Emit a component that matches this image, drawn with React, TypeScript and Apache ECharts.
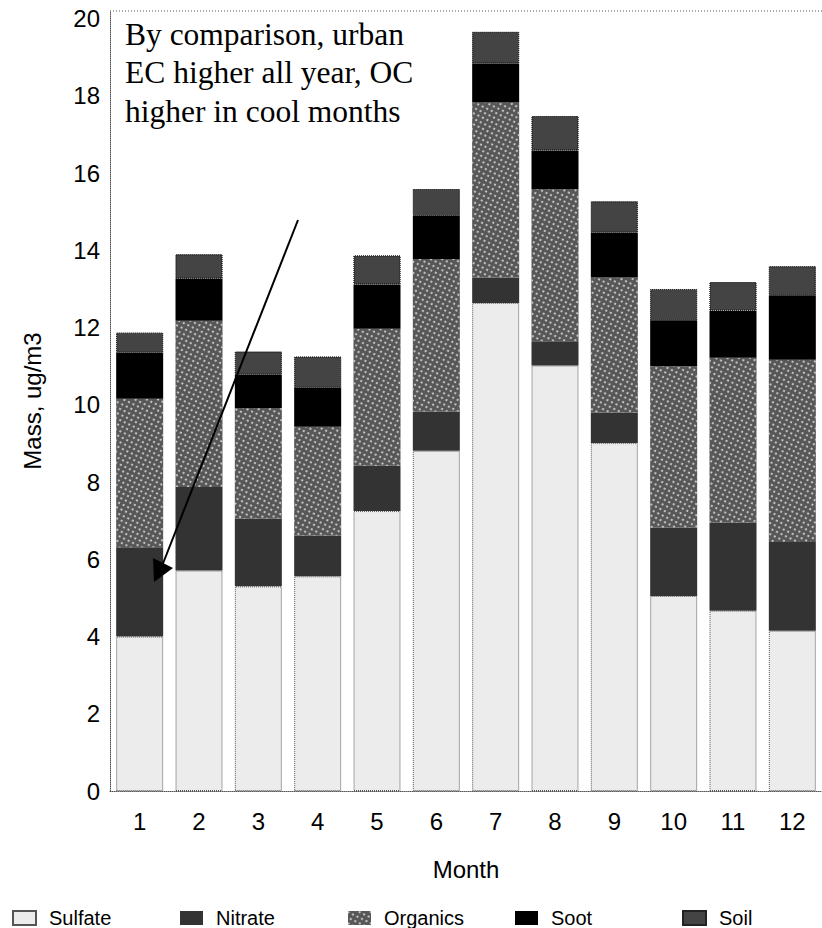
import React, { useEffect, useRef } from 'react';
import * as echarts from 'echarts';

const months = ['1', '2', '3', '4', '5', '6', '7', '8', '9', '10', '11', '12'];
const sulfate = [4.0, 5.71, 5.3, 5.56, 7.25, 8.81, 12.64, 11.02, 9.01, 5.05, 4.67, 4.15];
const nitrate = [2.31, 2.16, 1.76, 1.06, 1.17, 1.02, 0.66, 0.63, 0.79, 1.77, 2.28, 2.3];
const organics = [3.85, 4.31, 2.86, 2.81, 3.55, 3.95, 4.53, 3.94, 3.5, 4.18, 4.27, 4.72];
const soot = [1.19, 1.09, 0.86, 1.01, 1.15, 1.11, 1.01, 1.0, 1.16, 1.19, 1.22, 1.67];
const soil = [0.52, 0.63, 0.6, 0.81, 0.75, 0.7, 0.82, 0.89, 0.81, 0.81, 0.74, 0.75];
const seriesNames = ['Sulfate', 'Nitrate', 'Organics', 'Soot', 'Soil'];
const yMin = 0;
const yMax = 20.2;
const yInterval = 2;
const annotationLines = ['By comparison, urban', 'EC higher all year, OC', 'higher in cool months'];

const SANS = '"Liberation Sans", Arial, sans-serif';
const SERIF = '"Liberation Serif", "Times New Roman", serif';

export default function App() {
  const ref = useRef<HTMLDivElement>(null);
  useEffect(() => {
    if (!ref.current) return;
    const chart = echarts.init(ref.current, null, { renderer: 'svg' });
    const styles: any[] = [
      { color: '#ececec', borderColor: '#555', borderWidth: 1, borderType: 'dotted' },
      { color: '#333333' },
      {
        color: '#575757',
        decal: {
          symbol: 'circle',
          symbolSize: 1,
          color: 'rgba(255,255,255,0.75)',
          dashArrayX: [1.4, 2.8],
          dashArrayY: [1.4, 2.8],
          rotation: 0.45,
        },
      },
      { color: '#000000' },
      {
        color: '#444444',
        borderColor: '#222',
        borderWidth: 1,
        borderType: 'dotted',
        decal: {
          symbol: 'circle',
          symbolSize: 1,
          color: 'rgba(255,255,255,0.18)',
          dashArrayX: [1, 8],
          dashArrayY: [1, 8],
          rotation: 0.3,
        },
      },
    ];
    const dataArr = [sulfate, nitrate, organics, soot, soil];
    const legendLefts = [12, 180, 348, 515, 682];
    chart.setOption({
      animation: false,
      grid: { left: 110, top: 11, bottom: 137, width: 717, containLabel: false },
      xAxis: {
        type: 'category',
        data: months,
        name: 'Month',
        nameLocation: 'middle',
        nameGap: 66,
        nameTextStyle: { fontSize: 24, fontFamily: SANS, color: '#000' },
        axisTick: { show: false },
        axisLine: { show: true, lineStyle: { color: '#555', type: 'dotted', width: 1 } },
        axisLabel: { fontSize: 24, fontFamily: SANS, color: '#000', margin: 18 },
      },
      yAxis: {
        type: 'value',
        min: yMin,
        max: yMax,
        interval: yInterval,
        name: 'Mass, ug/m3',
        nameLocation: 'middle',
        nameGap: 66,
        nameRotate: 90,
        nameTextStyle: { fontSize: 24, fontFamily: SANS, color: '#000' },
        splitLine: { show: false },
        axisTick: { show: false },
        axisLine: { show: true, lineStyle: { color: '#555', type: 'dotted', width: 1 } },
        axisLabel: { fontSize: 24, fontFamily: SANS, color: '#000', margin: 10, showMaxLabel: false },
      },
      legend: seriesNames.map((n, i) => ({
        left: legendLefts[i],
        top: 908,
        padding: 0,
        itemWidth: 23,
        itemHeight: 14,
        icon: 'rect',
        selectedMode: false,
        data: [n],
        textStyle: { fontSize: 20, fontFamily: SANS, color: '#000', padding: [0, 0, 0, 8] },
      })),
      series: seriesNames.map((n, i) => ({
        name: n,
        type: 'bar',
        stack: 'mass',
        barWidth: 47,
        data: dataArr[i],
        itemStyle: styles[i],
        emphasis: { disabled: true },
      })),
      graphic: [
        {
          type: 'line',
          shape: { x1: 110, y1: 11, x2: 822, y2: 11 },
          style: { stroke: '#555', lineWidth: 1, lineDash: [1, 2] },
          silent: true,
        },
        {
          type: 'text',
          left: 125,
          top: 15,
          style: {
            text: annotationLines.join('\n'),
            font: `31.5px ${SERIF}`,
            fill: '#000',
            lineHeight: 38.5,
          },
          silent: true,
          z: 100,
        },
        {
          type: 'line',
          shape: { x1: 298, y1: 220, x2: 162, y2: 566 },
          style: { stroke: '#000', lineWidth: 2 },
          silent: true,
          z: 100,
        },
        {
          type: 'polygon',
          shape: { points: [[153, 558], [173, 568], [154, 582]] },
          style: { fill: '#000' },
          silent: true,
          z: 100,
        },
      ],
    });
    return () => chart.dispose();
  }, []);
  return (
    <div
      ref={ref}
      style={{ position: 'fixed', left: 0, top: 0, width: 822, height: 928, background: '#fff' }}
    />
  );
}
